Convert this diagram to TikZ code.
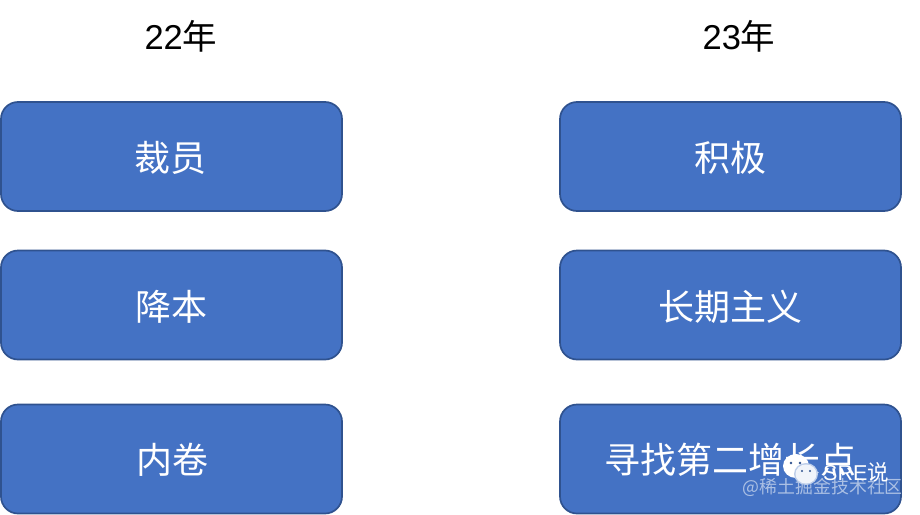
\documentclass[tikz,border=0pt]{standalone}
\usepackage{fontspec}
\setmainfont{Noto Sans CJK SC}
\newfontfamily\latinf{Liberation Sans}
\definecolor{boxfill}{HTML}{4472C4}
\definecolor{boxline}{HTML}{2F528F}
\tikzset{
 bluebox/.style={draw=boxline,line width=1.7pt,fill=boxfill,rounded corners=17pt,minimum width=341pt,minimum height=109pt,inner sep=0pt},
 boxtext/.style={text=white,inner sep=0pt,font=\fontsize{36}{42}\selectfont},
 yearlabel/.style={inner sep=0pt,text=black,font=\fontsize{34.5}{40}\selectfont},
 wm/.style={inner sep=0pt,text=white,font=\fontsize{21.5}{24}\selectfont},
 wmgrey/.style={inner sep=0pt,text=white!55!boxfill,font=\fontsize{17.9}{20}\selectfont},
}
\begin{document}
\begin{tikzpicture}[x=1pt,y=-1pt]
\useasboundingbox (0,0) rectangle (920,514);
\node[yearlabel] (y22) at (181,36) {{\latinf 22}年};
\node[yearlabel] (y23) at (739,36) {{\latinf 23}年};
\node[bluebox] (a1) at (171.5,156.5) {};
\node[bluebox] (a2) at (171.5,305) {};
\node[bluebox] (a3) at (171.5,459) {};
\node[bluebox] (b1) at (730.5,156.5) {};
\node[bluebox] (b2) at (730.5,305) {};
\node[bluebox] (b3) at (730.5,459) {};
\node[boxtext] (ta1) at (170.5,157.5) {裁员};
\node[boxtext] (ta2) at (171,306.5) {降本};
\node[boxtext] (ta3) at (172,460) {内卷};
\node[boxtext] (tb1) at (730,157.5) {积极};
\node[boxtext] (tb2) at (730,306.5) {长期主义};
\node[boxtext] (tb3) at (730,459.5) {寻找第二增长点};
% watermark
\node[wmgrey,anchor=east] (w2) at (903,487) {@稀土掘金技术社区};
\fill[white] (796,466) ellipse (13pt and 12pt);
\fill[boxfill!35!white] (806,474) ellipse (12pt and 11pt);
\fill[white!92!boxfill] (806,474) ellipse (10.5pt and 9.5pt);
\fill[boxline] (791,463) circle (1.3pt) (800,463) circle (1.3pt) (802,471) circle (1.2pt) (810,471) circle (1.2pt);
\node[wm,anchor=west] (w1) at (823,472) {{\latinf SRE}说};
\end{tikzpicture}
\end{document}
